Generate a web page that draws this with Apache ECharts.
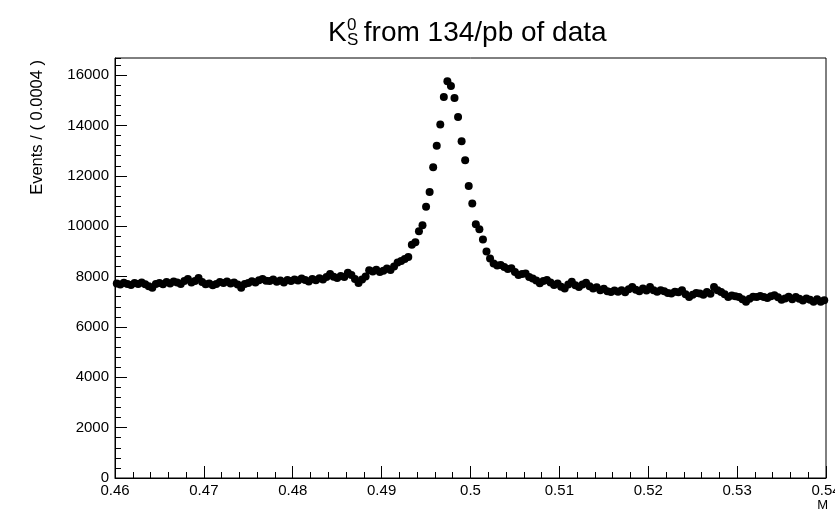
<!DOCTYPE html>
<html>
<head>
<meta charset="utf-8">
<script src="https://cdn.jsdelivr.net/npm/echarts@6/dist/echarts.min.js"></script>
<style>html,body{margin:0;padding:0;background:#fff}#c{width:835px;height:513px}</style>
</head>
<body>
<div id="c"></div>
<script>
// Histogram binning: 200 bins of width 0.0004 from 0.46 to 0.54
var binLow = 0.46;
var binWidth = 0.0004;
// Events per bin
var counts = [
7720,7680,7750,7700,7660,7740,7700,7760,7690,7620,
7560,7700,7740,7690,7780,7720,7800,7760,7700,7820,
7900,7760,7820,7940,7780,7690,7720,7650,7700,7780,
7740,7800,7720,7760,7680,7560,7700,7740,7810,7760,
7850,7900,7830,7820,7880,7790,7840,7760,7860,7820,
7880,7840,7920,7860,7800,7900,7850,7930,7880,7980,
8100,7990,7940,8020,7980,8150,8060,7900,7740,7880,
8000,8250,8200,8270,8180,8230,8320,8260,8400,8560,
8620,8700,8780,9260,9360,9800,10040,10770,11360,12340,
13200,14040,15130,15760,15570,15090,14340,13370,12620,11600,
10900,10080,9880,9470,9000,8720,8520,8440,8460,8380,
8300,8330,8180,8060,8100,8120,7980,7920,7840,7730,
7820,7860,7760,7660,7720,7600,7530,7680,7790,7650,
7590,7680,7750,7620,7530,7580,7460,7520,7420,7390,
7450,7400,7460,7380,7500,7590,7480,7420,7530,7450,
7590,7460,7400,7460,7420,7350,7330,7400,7380,7460,
7300,7190,7280,7350,7330,7280,7390,7320,7590,7460,
7390,7300,7190,7250,7220,7190,7100,7000,7120,7200,
7190,7230,7190,7150,7220,7260,7180,7080,7130,7200,
7100,7190,7120,7050,7130,7080,7000,7100,7000,7060
];
var xMin = 0.46, xMax = 0.54, xMajor = 0.01, xMinor = 0.002;
var yMin = 0, yMax = 16680, yMajor = 2000, yMinor = 400;
var titleMain = ' from 134/pb of data';
var yTitle = 'Events / ( 0.0004 )';
var xTitle = 'M';

var pts = counts.map(function (v, i) { return [binLow + binWidth * (i + 0.5), v]; });

var font = 'Liberation Sans, Arial, Helvetica, sans-serif';
var chart = echarts.init(document.getElementById('c'), null, {renderer: 'canvas'});
chart.setOption({
  animation: false,
  backgroundColor: '#fff',
  grid: {left: 115, right: 9, top: 58, bottom: 35, show: true, borderColor: '#000', borderWidth: 1,
    backgroundColor: 'transparent', containLabel: false, outerBoundsMode: 'none'},
  xAxis: [{
    type: 'value', min: xMin, max: xMax, interval: xMajor,
    axisLine: {show: true, onZero: false, lineStyle: {color: '#000', width: 1}},
    axisTick: {show: true, inside: true, length: 12, lineStyle: {color: '#000'}},
    axisLabel: {color: '#000', fontFamily: font, fontSize: 15, margin: 5, hideOverlap: false,
      formatter: function (v) { return String(Math.round(v * 1000) / 1000); }},
    splitLine: {show: false}
  }, {
    type: 'value', min: xMin, max: xMax, interval: xMinor, position: 'bottom',
    axisLine: {show: false},
    axisTick: {show: true, inside: true, length: 6, lineStyle: {color: '#000'}},
    axisLabel: {show: false}, splitLine: {show: false}
  }],
  yAxis: [{
    type: 'value', min: yMin, max: yMax, interval: yMajor,
    axisLine: {show: true, onZero: false, lineStyle: {color: '#000', width: 1}},
    axisTick: {show: true, inside: true, length: 12, lineStyle: {color: '#000'}},
    axisLabel: {color: '#000', fontFamily: font, fontSize: 15, margin: 6, showMaxLabel: false,
      formatter: function (v) { return String(v); }},
    splitLine: {show: false}
  }, {
    type: 'value', min: yMin, max: yMax, interval: yMinor, position: 'left',
    axisLine: {show: false},
    axisTick: {show: true, inside: true, length: 6, lineStyle: {color: '#000'}},
    axisLabel: {show: false}, splitLine: {show: false}
  }],
  series: [{
    type: 'scatter', xAxisIndex: 0, yAxisIndex: 0,
    data: pts, symbol: 'circle', symbolSize: 8,
    itemStyle: {color: '#000', opacity: 1}
  }],
  graphic: [
    {type: 'text', left: 328, top: 19, style: {text: 'K', font: '28px ' + font, fill: '#000'}},
    {type: 'text', left: 347, top: 17, style: {text: '0', font: '17px ' + font, fill: '#000'}},
    {type: 'text', left: 347, top: 32, style: {text: 'S', font: '17px ' + font, fill: '#000'}},
    {type: 'text', left: 356, top: 19, style: {text: titleMain, font: '28px ' + font, fill: '#000'}},
    {type: 'text', x: 37, y: 60, rotation: Math.PI / 2,
      style: {text: yTitle, font: '16.5px ' + font, fill: '#000', align: 'right', verticalAlign: 'middle'}},
    {type: 'text', x: 828, y: 505, style: {text: xTitle, font: '13px ' + font, fill: '#000', align: 'right', verticalAlign: 'middle'}}
  ]
});
</script>
</body>
</html>
